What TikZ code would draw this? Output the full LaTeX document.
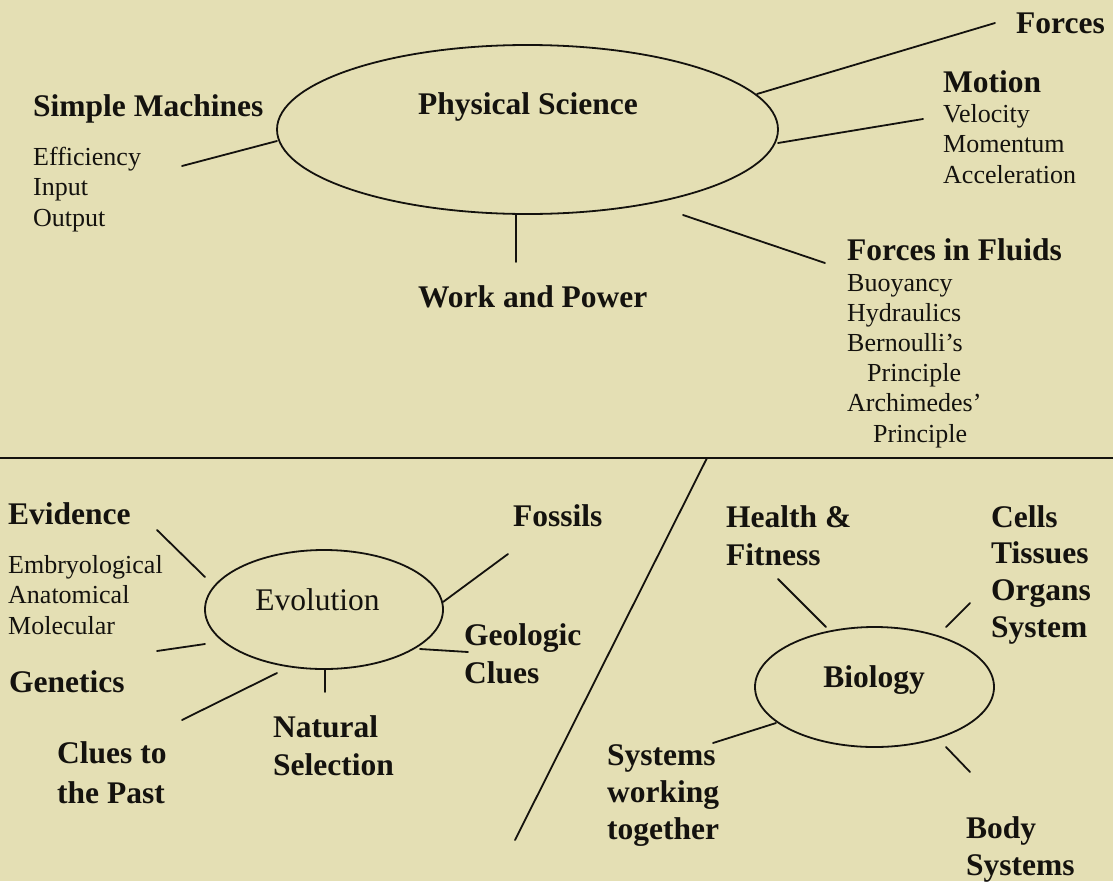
\documentclass[tikz,border=0pt]{standalone}
\usepackage{fontspec}
\setmainfont{Liberation Serif}
\usetikzlibrary{shapes.geometric}
\definecolor{bg}{RGB}{228,223,180}
\definecolor{ink}{RGB}{20,18,14}
\newcommand{\headfont}{\fontsize{31.5}{37.5}\selectfont\bfseries}
\newcommand{\subfont}{\fontsize{26}{30.5}\selectfont}
\newcommand{\mystack}[1]{\begin{tabular}[t]{@{}l@{}}#1\end{tabular}}
\begin{document}
\begin{tikzpicture}[x=1pt,y=-1pt,
  hd/.style={anchor=base west, inner sep=0pt, font=\headfont, text=ink},
  sub/.style={anchor=base west, inner sep=0pt, font=\subfont, text=ink},
  bubble/.style={draw=ink, ellipse, inner sep=0pt, line width=1.8pt},
  link/.style={draw=ink, line width=1.8pt, line cap=round}]
\useasboundingbox (0,0) rectangle (1113,881);
\fill[bg] (0,0) rectangle (1113,881);

% ---------- Physical Science ----------
\node[bubble, minimum width=501pt, minimum height=169pt] (ps) at (527.5,129.5) {};
\node[hd, anchor=base] (pst) at (528,114) {Physical Science};
\node[hd] (sm) at (33,116) {Simple Machines};
\node[sub] (sml) at (33,165) {\mystack{Efficiency\\Input\\Output}};
\node[hd] (fo) at (1016,33) {Forces};
\node[hd] (mo) at (943,92) {Motion};
\node[sub] (mol) at (943,122) {\mystack{Velocity\\Momentum\\Acceleration}};
\node[hd] (wp) at (418,307) {Work and Power};
\node[hd] (ff) at (847,260) {Forces in Fluids};
\node[sub, font=\fontsize{26}{30.2}\selectfont] (ffl) at (847,291)
  {\mystack{Buoyancy\\Hydraulics\\Bernoulli's\\\hspace*{20pt}Principle\\Archimedes'\\\hspace*{26pt}Principle}};

\coordinate (smA) at (182,166);  \coordinate (smB) at (277,141);
\coordinate (foA) at (757,94);   \coordinate (foB) at (995,23);
\coordinate (moA) at (778,143);  \coordinate (moB) at (923,119);
\coordinate (wpA) at (516,214);  \coordinate (wpB) at (516,262);
\coordinate (ffA) at (683,215);  \coordinate (ffB) at (825,263);
\draw[link] (smA) -- (smB);
\draw[link] (foA) -- (foB);
\draw[link] (moA) -- (moB);
\draw[link] (wpA) -- (wpB);
\draw[link] (ffA) -- (ffB);

% ---------- dividers ----------
\coordinate (dL) at (0,458);   \coordinate (dR) at (1113,458);
\coordinate (sT) at (707,458); \coordinate (sB) at (515,840);
\draw[link, line cap=butt] (dL) -- (dR);
\draw[link] (sT) -- (sB);

% ---------- Evolution ----------
\node[bubble, minimum width=238pt, minimum height=119pt] (ev) at (324,609.5) {};
\node[anchor=base, inner sep=0pt, font=\fontsize{31.5}{37}\selectfont, text=ink] (evt) at (317.5,610) {Evolution};
\node[hd] (evi) at (8,524) {Evidence};
\node[sub] (evil) at (8,573) {\mystack{Embryological\\Anatomical\\Molecular}};
\node[hd] (gen) at (9,692) {Genetics};
\node[hd, font=\fontsize{31.5}{40}\selectfont\bfseries] (clp) at (57,763) {\mystack{Clues to\\the Past}};
\node[hd, font=\fontsize{31.5}{38}\selectfont\bfseries] (nat) at (273,737) {\mystack{Natural\\Selection}};
\node[hd] (fos) at (513,526) {Fossils};
\node[hd, font=\fontsize{31.5}{38}\selectfont\bfseries] (geo) at (464,645) {\mystack{Geologic\\Clues}};

\coordinate (evA) at (157,530); \coordinate (evB) at (205,577);
\coordinate (geA) at (157,651); \coordinate (geB) at (205,644);
\coordinate (clA) at (182,720); \coordinate (clB) at (277,673);
\coordinate (naA) at (325,670); \coordinate (naB) at (325,692);
\coordinate (fsA) at (443,602); \coordinate (fsB) at (508,554);
\coordinate (glA) at (420,649); \coordinate (glB) at (468,652);
\draw[link] (evA) -- (evB);
\draw[link] (geA) -- (geB);
\draw[link] (clA) -- (clB);
\draw[link] (naA) -- (naB);
\draw[link] (fsA) -- (fsB);
\draw[link] (glA) -- (glB);

% ---------- Biology ----------
\node[bubble, minimum width=239pt, minimum height=120pt] (bio) at (874.5,687) {};
\node[hd, anchor=base] (biot) at (874,687) {Biology};
\node[hd, font=\fontsize{31.5}{38}\selectfont\bfseries] (hf) at (726,527) {\mystack{Health \&\\Fitness}};
\node[hd, font=\fontsize{31.5}{36.7}\selectfont\bfseries] (ce) at (991,527) {\mystack{Cells\\Tissues\\Organs\\System}};
\node[hd, font=\fontsize{31.5}{37}\selectfont\bfseries] (sw) at (607,765) {\mystack{Systems\\working\\together}};
\node[hd, font=\fontsize{31.5}{37}\selectfont\bfseries] (bs) at (966,838) {\mystack{Body\\Systems}};

\coordinate (hfA) at (778,579); \coordinate (hfB) at (826,627);
\coordinate (ceA) at (970,603); \coordinate (ceB) at (946,627);
\coordinate (swA) at (713,743); \coordinate (swB) at (776,723);
\coordinate (bsA) at (946,747); \coordinate (bsB) at (970,772);
\draw[link] (hfA) -- (hfB);
\draw[link] (ceA) -- (ceB);
\draw[link] (swA) -- (swB);
\draw[link] (bsA) -- (bsB);
\end{tikzpicture}
\end{document}
